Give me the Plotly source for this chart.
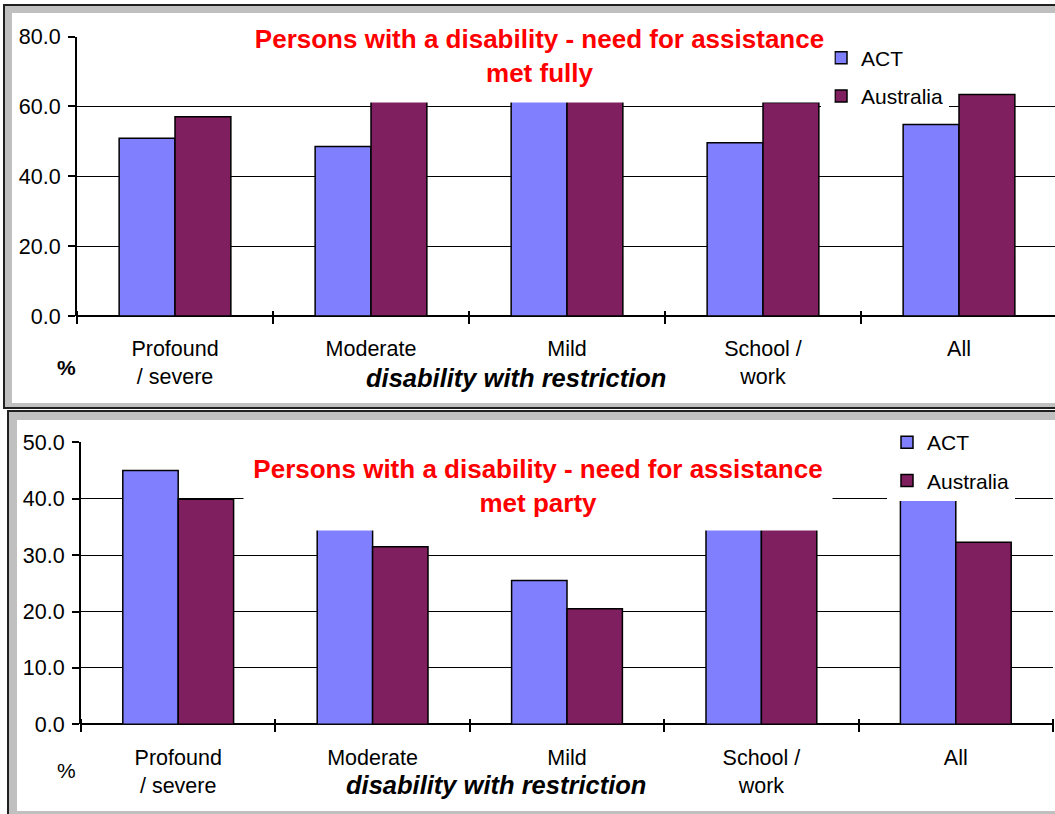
import plotly.graph_objects as go

W, H = 1055, 814

categories = ["Profound<br>/ severe", "Moderate", "Mild", "School /<br>work", "All"]
series_names = ["ACT", "Australia"]

# Chart 1: need for assistance met fully (%)
fully_act = [50.9, 48.5, 70.0, 49.6, 54.8]
fully_aus = [57.0, 64.0, 69.0, 61.1, 63.4]

# Chart 2: need for assistance met partly (%)
partly_act = [45.0, 36.0, 25.5, 38.0, 41.0]
partly_aus = [39.9, 31.5, 20.5, 36.5, 32.3]

title_top = "Persons with a disability - need for assistance<br>met fully"
title_bot = "Persons with a disability - need for assistance<br>met party"
x_title = "disability with restriction"

ACT_COLOR = "#8080FF"
AUS_COLOR = "#7F1F5F"
FONT = "Liberation Sans, Arial, sans-serif"


def px(x):
    return x / W


def py(y):
    return 1 - y / H


fig = go.Figure()

for vals, name, color, xa, ya, leg in [
    (fully_act, "ACT", ACT_COLOR, "x", "y", "legend"),
    (fully_aus, "Australia", AUS_COLOR, "x", "y", "legend"),
    (partly_act, "ACT", ACT_COLOR, "x2", "y2", "legend2"),
    (partly_aus, "Australia", AUS_COLOR, "x2", "y2", "legend2"),
]:
    fig.add_trace(go.Bar(
        x=categories, y=vals, name=name, xaxis=xa, yaxis=ya, legend=leg,
        legendgroup=name + leg,
        marker=dict(color=color, line=dict(color="black", width=1.5)),
    ))

# panel frames (Excel chart objects)
shapes = []
def rect(x0, y0, x1, y1, color):
    shapes.append(dict(type="rect", xref="paper", yref="paper", layer="below",
                       x0=px(x0), x1=px(x1), y0=py(y1), y1=py(y0),
                       fillcolor=color, line=dict(width=0)))

rect(3, 4, 1070, 409, "#202020")
rect(5, 6, 1070, 407, "#C0C0C0")
rect(12, 13, 1070, 403, "white")
rect(7, 410, 1070, 830, "#202020")
rect(9, 412, 1070, 830, "#C0C0C0")
rect(17, 420, 1070, 811, "white")

tickfont = dict(family=FONT, size=21.5, color="black")

# category x axes: ticks on category boundaries, crossing the baseline
common_x = dict(type="category", tickson="boundaries", ticks="outside", ticklen=13,
                tickwidth=1.5, tickcolor="black", showgrid=False, zeroline=False,
                showline=False, tickfont=tickfont, automargin=False, anchor="free")
common_y = dict(showgrid=True, gridcolor="black", gridwidth=1.3,
                zeroline=True, zerolinecolor="black", zerolinewidth=2,
                showline=True, linecolor="black", linewidth=2, ticks="outside",
                ticklen=7, tickwidth=1.5, tickcolor="black", tickformat=".1f",
                tickfont=tickfont, automargin=False, ticklabelstandoff=3)

top_range = [-0.5, 4.5 - 2 / 196]
bot_range = [-0.5, 4.5]

fig.update_layout(
    width=W, height=H, autosize=False,
    margin=dict(l=0, r=0, t=0, b=0, pad=0, autoexpand=False),
    paper_bgcolor="white", plot_bgcolor="rgba(0,0,0,0)",
    barmode="group", bargap=0.43, bargroupgap=0,
    font=dict(family=FONT, color="black"),
    shapes=shapes,
    xaxis=dict(domain=[px(77), 1.0], range=top_range, position=py(316 - 6.5),
               ticklabelstandoff=24, **common_x),
    yaxis=dict(domain=[py(316), py(36.5)], range=[0, 80], dtick=20, anchor="x", **common_y),
    xaxis2=dict(domain=[px(81), px(1053)], range=bot_range, position=py(724.3 - 6.5),
                ticklabelstandoff=25, **common_x),
    yaxis2=dict(domain=[py(724.3), py(442.3)], range=[0, 50], dtick=10, anchor="x2", **common_y),
    legend=dict(x=px(821), y=py(37.5), xanchor="left", yanchor="top",
                bgcolor="white", borderwidth=0, tracegroupgap=8,
                font=dict(family=FONT, size=21, color="black")),
    legend2=dict(x=px(887), y=py(422), xanchor="left", yanchor="top",
                 bgcolor="white", borderwidth=0, tracegroupgap=8,
                 font=dict(family=FONT, size=21, color="black")),
    showlegend=True,
)

annotations = [
    dict(text="<b>" + title_top + "</b>", xref="paper", yref="paper",
         x=px(539.5), y=py(23.5), xanchor="center", yanchor="top",
         width=589, height=77.5, valign="top", bgcolor="white", borderpad=0,
         showarrow=False, font=dict(family=FONT, size=26, color="#FF0000")),
    dict(text="<b>" + title_bot + "</b>", xref="paper", yref="paper",
         x=px(537.5), y=py(442.5), xanchor="center", yanchor="top",
         width=588, height=86.5, valign="middle", bgcolor="white", borderpad=0,
         showarrow=False, font=dict(family=FONT, size=26, color="#FF0000")),
    dict(text="<b><i>" + x_title + "</i></b>", xref="paper", yref="paper",
         x=px(516), y=py(378), xanchor="center", yanchor="middle",
         showarrow=False, font=dict(family=FONT, size=25.5, color="black")),
    dict(text="<b><i>" + x_title + "</i></b>", xref="paper", yref="paper",
         x=px(496), y=py(785), xanchor="center", yanchor="middle",
         showarrow=False, font=dict(family=FONT, size=25.5, color="black")),
    dict(text="<b>%</b>", xref="paper", yref="paper",
         x=px(66.5), y=py(368), xanchor="center", yanchor="middle",
         showarrow=False, font=dict(family=FONT, size=21, color="black")),
    dict(text="%", xref="paper", yref="paper",
         x=px(66.5), y=py(770), xanchor="center", yanchor="middle",
         showarrow=False, font=dict(family=FONT, size=21, color="black")),
]
fig.update_layout(annotations=annotations)

fig.write_html("out.html", config={"displayModeBar": False},
               post_script="document.body.style.margin='0px';")
